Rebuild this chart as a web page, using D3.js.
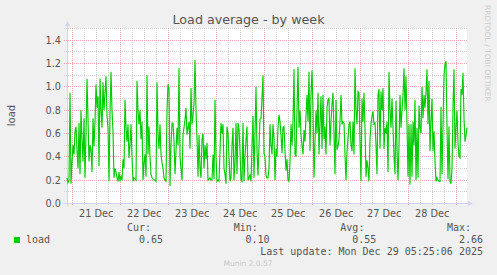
<!DOCTYPE html>
<html>
<head>
<meta charset="utf-8">
<script src="https://cdn.jsdelivr.net/npm/d3@7"></script>
<style>
  body { margin: 0; background: #f0f0f0; }
  svg { display: block; }
</style>
</head>
<body>
<div id="chart"></div>
<script>
// load average, one value per 30 min
var load = [
  0.22,0.18,0.2,0.95,0.17,0.35,0.5,0.42,0.62,0.66,0.45,0.3,0.69,0.25,0.8,0.55,0.36,0.73,0.22,0.6,1.07,0.73,0.36,0.5,0.46,0.27,0.73,0.49,0.7,1.02,0.82,0.92,0.32,1.07,0.8,0.65,1.04,0.8,0.95,1.09,0.75,0.65,0.19,0.78,1.13,0.8,0.62,0.22,0.3,0.27,0.22,0.19,0.27,0.19,0.24,0.2,0.38,0.3,0.89,0.65,0.53,0.68,0.39,0.5,0.68,0.4,0.19,
  0.22,0.21,0.2,1.05,0.8,0.68,0.8,0.55,0.7,0.2,0.35,0.42,0.23,1.1,0.42,0.66,0.4,0.25,0.22,0.21,0.2,0.2,0.19,1.04,0.6,0.47,0.68,0.42,0.35,0.3,0.22,0.2,0.19,0.8,1.02,0.99,0.15,0.5,0.69,0.69,0.53,0.25,0.45,0.65,0.5,1.16,0.4,0.3,0.2,0.59,0.65,0.72,0.82,0.59,0.65,0.7,0.47,0.99,0.68,0.75,0.85,1.23,0.8,0.56,0.23,0.59,0.3,
  0.22,0.55,0.6,0.3,0.5,0.38,0.52,0.2,0.21,0.22,0.2,0.2,0.42,0.21,0.89,0.4,0.19,0.2,0.19,0.45,0.69,0.6,0.68,0.3,0.25,0.17,0.66,0.6,0.4,0.19,0.22,0.5,0.65,0.2,0.35,0.69,0.25,0.69,0.64,0.45,0.2,0.19,0.69,0.19,0.4,0.55,0.66,0.2,0.22,0.25,0.19,0.5,0.75,0.22,0.6,1.0,0.45,0.24,0.5,0.72,0.73,0.9,1.1,0.43,0.4,0.24,0.22,
  0.22,0.3,0.68,0.5,0.42,0.68,0.56,0.2,0.47,0.4,0.65,0.76,0.7,0.59,0.43,0.65,0.66,0.45,0.28,0.38,0.2,0.19,0.35,0.68,0.5,0.7,1.15,0.42,0.4,0.8,1.17,0.65,0.8,0.59,0.5,0.42,0.63,0.53,0.76,0.93,0.7,1.13,0.45,0.93,1.14,0.8,0.22,0.53,0.8,0.6,0.95,0.42,0.69,0.92,0.47,0.93,0.55,0.66,0.42,0.82,0.89,0.9,0.5,0.7,0.85,0.95,0.6,
  0.25,0.89,0.46,0.49,0.55,0.7,0.93,0.68,0.7,0.69,0.42,0.2,0.45,0.56,0.68,0.7,0.5,0.45,0.7,0.42,1.16,0.8,0.68,0.96,0.95,0.53,0.19,0.9,0.7,0.95,0.65,0.23,0.37,0.3,0.19,0.55,0.68,0.75,0.79,0.68,0.69,0.5,0.25,0.93,0.98,0.47,0.96,0.8,0.99,0.47,0.65,0.6,0.7,0.27,1.13,0.8,0.65,0.9,0.65,0.4,0.25,0.88,0.46,0.2,0.5,0.93,0.65,
  0.8,0.93,1.16,0.8,1.09,0.68,0.23,0.68,0.16,0.68,0.23,0.7,0.5,0.89,0.2,0.65,0.22,0.84,0.65,0.6,1.0,0.73,0.93,0.82,0.96,1.15,0.68,1.05,0.45,0.7,0.9,0.45,0.62,0.36,0.19,0.22,0.2,0.19,0.19,0.83,0.25,0.65,1.1,1.19,1.22,0.65,0.21,0.66,0.19,0.17,0.3,0.82,1.15,0.47,0.65,0.8,0.52,0.4,0.39,0.98,0.93,1.12,0.73,0.53,0.58,0.65
];

var legendHeads = ["Cur:", "Min:", "Avg:", "Max:"],
    legendVals = ["0.65", "0.10", "0.55", "2.66"],
    lastUpdate = "Last update: Mon Dec 29 05:25:06 2025";

var W = 497, H = 275,
    pl = 67, pr = 467, pt = 28.5, pb = 203.5;

var tEnd = Date.UTC(2025, 11, 29, 5, 25, 6),
    step = 1800 * 1000,
    tStart = tEnd - 400 * step;

var data = load.map(function(v, i){ return {t: new Date(tStart + i * step), v: v}; });

var svg = d3.select("#chart").append("svg")
  .attr("width", W)
  .attr("height", H);

svg.append("rect").attr("width", W).attr("height", H).attr("fill", "#f0f0f0");
svg.append("rect")
  .attr("x", pl).attr("y", 28)
  .attr("width", pr - pl).attr("height", pb - 28)
  .attr("fill", "#ffffff");

var x = d3.scaleUtc().domain([new Date(tStart), new Date(tEnd)]).range([pl, pr]),
    y = d3.scaleLinear().domain([0, 1.5]).range([pb, pt]);

var snap = function(p){ return Math.round(p - 0.5) + 0.5; };

var grid = svg.append("g").attr("class", "grid");

// minor grid: every 0.1 and every 6 hours
grid.selectAll(".hminor")
  .data(y.ticks(15))
  .enter().append("line")
    .attr("x1", pl - 3).attr("x2", pr)
    .attr("y1", function(d){ return snap(y(d)); })
    .attr("y2", function(d){ return snap(y(d)); })
    .attr("stroke", "#d2d2d2")
    .attr("stroke-dasharray", "1,1");

grid.selectAll(".vminor")
  .data(d3.utcHour.every(6).range(x.domain()[0], x.domain()[1]))
  .enter().append("line")
    .attr("x1", function(d){ return snap(x(d)); })
    .attr("x2", function(d){ return snap(x(d)); })
    .attr("y1", 28).attr("y2", pb + 2)
    .attr("stroke", "#d2d2d2")
    .attr("stroke-dasharray", "1,1");

// major grid: every 0.2 and each midnight
grid.selectAll(".hmajor")
  .data(y.ticks(8).filter(function(d){ return d > 0; }))
  .enter().append("line")
    .attr("x1", pl - 3).attr("x2", pr)
    .attr("y1", function(d){ return snap(y(d)); })
    .attr("y2", function(d){ return snap(y(d)); })
    .attr("stroke", "#e8acac")
    .attr("stroke-dasharray", "1,1");

grid.selectAll(".vmajor")
  .data(d3.utcDay.range(x.domain()[0], x.domain()[1]))
  .enter().append("line")
    .attr("x1", function(d){ return snap(x(d)); })
    .attr("x2", function(d){ return snap(x(d)); })
    .attr("y1", 28).attr("y2", pb + 2)
    .attr("stroke", "#e8acac")
    .attr("stroke-dasharray", "1,1");

// axes with arrows
var axisCol = "#cfd6f8";
svg.append("line").attr("x1", pl - 4).attr("x2", pr + 3)
  .attr("y1", pb).attr("y2", pb).attr("stroke", axisCol);
svg.append("line").attr("x1", pl + 0.5).attr("x2", pl + 0.5)
  .attr("y1", pb + 3).attr("y2", 25).attr("stroke", axisCol);
svg.append("path").attr("d", "M468,201 L473,203.5 L468,206 Z").attr("fill", axisCol);
svg.append("path").attr("d", "M65,26 L67.5,21 L70,26 Z").attr("fill", axisCol);

// the load line
var line = d3.line()
  .x(function(d){ return x(d.t); })
  .y(function(d){ return y(d.v); });

svg.append("path")
  .datum(data)
  .attr("d", line)
  .attr("fill", "none")
  .attr("stroke", "#00cc00")
  .attr("stroke-width", 1.15)
  .attr("stroke-linejoin", "miter");

var sans = "'DejaVu Sans', sans-serif",
    mono = "'DejaVu Sans Mono', monospace",
    txt = "#555555";

// y tick labels
svg.selectAll(".ylab")
  .data(y.ticks(8))
  .enter().append("text")
    .attr("x", 61)
    .attr("y", function(d){ return y(d) + 3.5; })
    .attr("text-anchor", "end")
    .attr("font-family", sans).attr("font-size", "9.7px")
    .attr("fill", txt)
    .text(d3.format(".1f"));

// x labels centred at noon of each day
var fmt = d3.utcFormat("%d %b");
svg.selectAll(".xlab")
  .data(d3.utcDay.range(x.domain()[0], x.domain()[1])
    .map(function(d){ return new Date(+d + 12 * 3600 * 1000); })
    .filter(function(d){ return d > x.domain()[0] && d < x.domain()[1]; }))
  .enter().append("text")
    .attr("x", function(d){ return x(d); })
    .attr("y", 217)
    .attr("text-anchor", "middle")
    .attr("font-family", sans).attr("font-size", "9.7px")
    .attr("fill", txt)
    .text(fmt);

// titles
svg.append("text")
  .attr("x", 248.5).attr("y", 24)
  .attr("text-anchor", "middle")
  .attr("font-family", sans).attr("font-size", "12.7px")
  .attr("fill", txt)
  .text("Load average - by week");

svg.append("text")
  .attr("transform", "translate(15,115.5) rotate(-90)")
  .attr("text-anchor", "middle")
  .attr("font-family", sans).attr("font-size", "10px")
  .attr("fill", txt)
  .text("load");

svg.append("text")
  .attr("transform", "translate(484.5,5) rotate(90)")
  .attr("font-family", sans).attr("font-size", "7.5px")
  .attr("fill", "#cccccc")
  .text("RRDTOOL / TOBI OETIKER");

// legend
svg.append("rect")
  .attr("x", 14).attr("y", 237).attr("width", 6).attr("height", 6)
  .attr("fill", "#00cc00");
svg.append("text")
  .attr("x", 26).attr("y", 243)
  .attr("font-family", mono).attr("font-size", "10px")
  .attr("fill", txt)
  .text("load");

var colX = d3.scaleLinear().domain([0, 3]).range([127, 447]);
svg.selectAll(".lhead")
  .data(legendHeads)
  .enter().append("text")
    .attr("x", function(d, i){ return colX(i); })
    .attr("y", 231)
    .attr("font-family", mono).attr("font-size", "10px")
    .attr("fill", txt)
    .text(function(d){ return d; });
svg.selectAll(".lval")
  .data(legendVals)
  .enter().append("text")
    .attr("x", function(d, i){ return colX(i) + 36; })
    .attr("y", 243)
    .attr("text-anchor", "end")
    .attr("font-family", mono).attr("font-size", "10px")
    .attr("fill", txt)
    .text(function(d){ return d; });

svg.append("text")
  .attr("x", 483).attr("y", 255)
  .attr("text-anchor", "end")
  .attr("font-family", mono).attr("font-size", "10px")
  .attr("fill", txt)
  .text(lastUpdate);

svg.append("text")
  .attr("x", 248).attr("y", 266)
  .attr("text-anchor", "middle")
  .attr("font-family", sans).attr("font-size", "7.5px")
  .attr("fill", "#c8c8c8")
  .text("Munin 2.0.57");
</script>
</body>
</html>
